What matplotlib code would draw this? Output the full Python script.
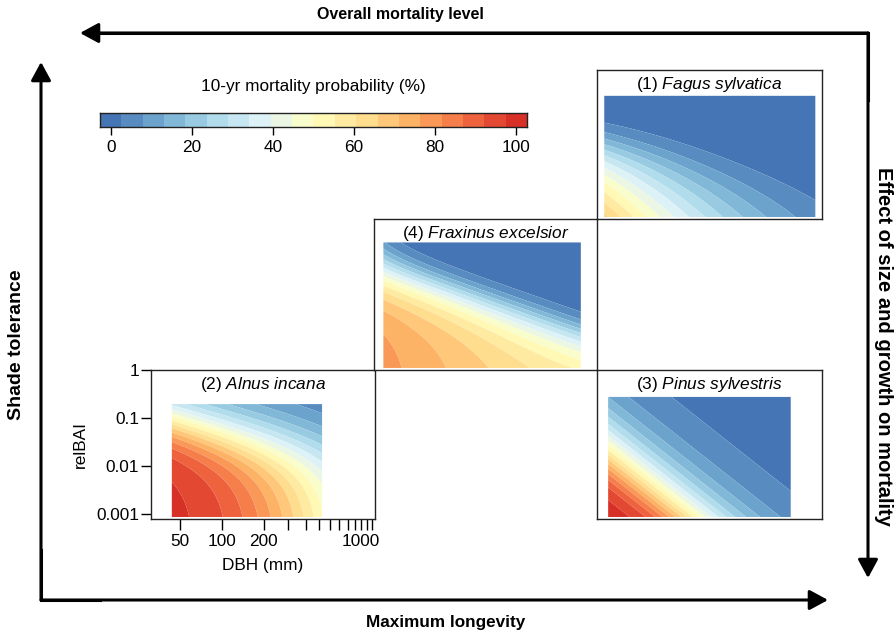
import numpy as np
import matplotlib
matplotlib.use('Agg')
import matplotlib.pyplot as plt
from matplotlib.colors import LinearSegmentedColormap, ListedColormap

plt.rcParams['font.family'] = ['Liberation Sans', 'DejaVu Sans']
plt.rcParams['mathtext.fontset'] = 'custom'
plt.rcParams['mathtext.rm'] = 'Liberation Sans'
plt.rcParams['mathtext.it'] = 'Liberation Sans:italic'

# ---------------- data ----------------
species = ['Fagus sylvatica', 'Alnus incana', 'Pinus sylvestris', 'Fraxinus excelsior']
panel_no = ['(1)', '(2)', '(3)', '(4)']
# prediction range of each species
dbh_min = [34.7, 43.7, 37.0, 35.7]          # mm
dbh_max = [1120.0, 525.0, 747.0, 955.0]
relbai_min = [0.00087, 0.00087, 0.00087, 0.00087]
relbai_max = [0.29, 0.195, 0.275, 0.33]
# annual mortality model (logit) coefficients per species
b0 = [-1.30, -2.038, 0.616, -5.62]
b_dbh = [-0.000361, -0.000465, 0.0, 0.000261]
b_lndbh = [-0.670, -0.714, -1.598, -0.217]
b_rel = [-21.0, 0.0, 0.0, 10.8]
b_lnrel = [-0.224, -1.0, -0.695, -2.0]
g0 = [0.0, 0.015, 0.0, 0.1]
b_dbh_rel = [-0.40, 0.0, 0.0, -0.300]
years = 10

# colour scale
palette = ['#4575b4', '#74add1', '#abd9e9', '#e0f3f8', '#ffffbf',
           '#fee090', '#fdae61', '#f46d43', '#d73027']
n_colors = 20
cbar_ticks = [0, 20, 40, 60, 80, 100]

# axis ticks of the labelled panel
ytick_vals = [1, 0.1, 0.01, 0.001]
ytick_labels = ['1', '0.1', '0.01', '0.001']
xtick_vals = [50, 100, 200, 300, 400, 500, 600, 700, 800, 900, 1000, 1100, 1200]
xtick_labels = ['50', '100', '200', '', '', '', '', '', '', '', '1000', '', '']
xlim = (30.8, 1250)
ylim = (0.00079, 1)

# ---------------- figure ----------------
W, H = 895, 633
fig = plt.figure(figsize=(W / 100, H / 100), dpi=100)

cmap = ListedColormap(LinearSegmentedColormap.from_list('m', palette)(np.linspace(0, 1, n_colors)))
step = 100.0 / (n_colors - 1)
edges = np.arange(n_colors + 1) * step - step / 2


def px(l, t, r, b):
    return [l / W, 1 - b / H, (r - l) / W, (b - t) / H]


boxes = {0: px(597, 70, 822, 219), 1: px(150.7, 370, 374.5, 519),
         2: px(597, 370, 822, 519), 3: px(374.5, 219, 597, 370)}

# background overlay for arrows and labels
ov = fig.add_axes([0, 0, 1, 1], zorder=-1)
ov.set_xlim(0, W)
ov.set_ylim(H, 0)
ov.axis('off')

for i in range(4):
    ax = fig.add_axes(boxes[i])
    D = np.logspace(np.log10(dbh_min[i]), np.log10(dbh_max[i]), 300)
    G = np.logspace(np.log10(relbai_min[i]), np.log10(relbai_max[i]), 300)
    DD, GG = np.meshgrid(D, G)
    eta = (b0[i] + b_dbh[i] * DD + b_lndbh[i] * np.log(DD) + b_rel[i] * GG
           + b_lnrel[i] * np.log(GG + g0[i]) + b_dbh_rel[i] * DD * GG)
    p1 = 1 / (1 + np.exp(-eta))
    P = 100 * (1 - (1 - p1) ** years)
    ax.contourf(DD, GG, P, levels=edges, cmap=cmap, extend='neither', antialiased=True)
    ax.set_xscale('log')
    ax.set_yscale('log')
    ax.set_xlim(*xlim)
    ax.set_ylim(*ylim)
    for s in ax.spines.values():
        s.set_linewidth(1.0)
        s.set_color('#222222')
    ax.minorticks_off()
    ax.text(0.5, 1 - 14.5 / 149, panel_no[i] + r' $\mathit{' + species[i].replace(' ', r'\ ') + '}$',
            transform=ax.transAxes, ha='center', va='center', fontsize=12.4)
    if i == 1:
        ax.set_yticks(ytick_vals)
        ax.set_yticklabels(ytick_labels)
        ax.set_xticks(xtick_vals)
        ax.set_xticklabels(xtick_labels)
        ax.tick_params(axis='y', length=7, width=1, pad=1.5, labelsize=12.4)
        ax.tick_params(axis='x', length=8, width=1, pad=3, labelsize=12.4)
        ax.set_ylabel('relBAI', fontsize=12.4, labelpad=6)
        ax.set_xlabel('DBH (mm)', fontsize=12.4, labelpad=6)
    else:
        ax.set_xticks([])
        ax.set_yticks([])

# colour bar
cax = fig.add_axes(px(100, 113, 527, 127.3))
cax.pcolormesh(edges, [0, 1], np.arange(n_colors)[None, :].astype(float) * step,
               cmap=cmap, vmin=edges[0], vmax=edges[-1])
cax.set_xlim(edges[0], edges[-1])
cax.set_ylim(0, 1)
cax.set_yticks([])
cax.set_xticks(cbar_ticks)
cax.tick_params(axis='x', length=6, width=1, pad=3, labelsize=12.4)
for s in cax.spines.values():
    s.set_linewidth(1.0)
    s.set_color('#222222')
ov.text(313, 86, '10-yr mortality probability (%)', ha='center', va='center', fontsize=12.4)

# arrows
lw = 2.2
arrow = dict(arrowstyle='-|>,head_length=0.7,head_width=0.38', lw=lw, color='black',
             shrinkA=0, shrinkB=0, mutation_scale=16)
ov.annotate('', xy=(80, 33), xytext=(868, 33), arrowprops=arrow)
ov.annotate('', xy=(868, 578), xytext=(868, 33), arrowprops=arrow)
ov.annotate('', xy=(41, 62), xytext=(41, 600), arrowprops=arrow)
ov.annotate('', xy=(828, 600), xytext=(41, 600), arrowprops=arrow)
ov.plot([100, 868, 868], [33, 33, 100], color='black', lw=lw, solid_capstyle='projecting', solid_joinstyle='miter')
ov.plot([41, 41, 100], [550, 600, 600], color='black', lw=lw, solid_capstyle='projecting', solid_joinstyle='miter')

ov.text(400, 14, 'Overall mortality level', ha='center', va='center', fontsize=11.5, fontweight='bold')
ov.text(446, 622, 'Maximum longevity', ha='center', va='center', fontsize=12.3, fontweight='bold')
ov.text(17, 345, 'Shade tolerance', ha='center', va='center', rotation=90, fontsize=14, fontweight='bold')
ov.text(884, 346, 'Effect of size and growth on mortality', ha='center', va='center', rotation=270,
        fontsize=14.5, fontweight='bold')

fig.savefig('out.png', dpi=100)
